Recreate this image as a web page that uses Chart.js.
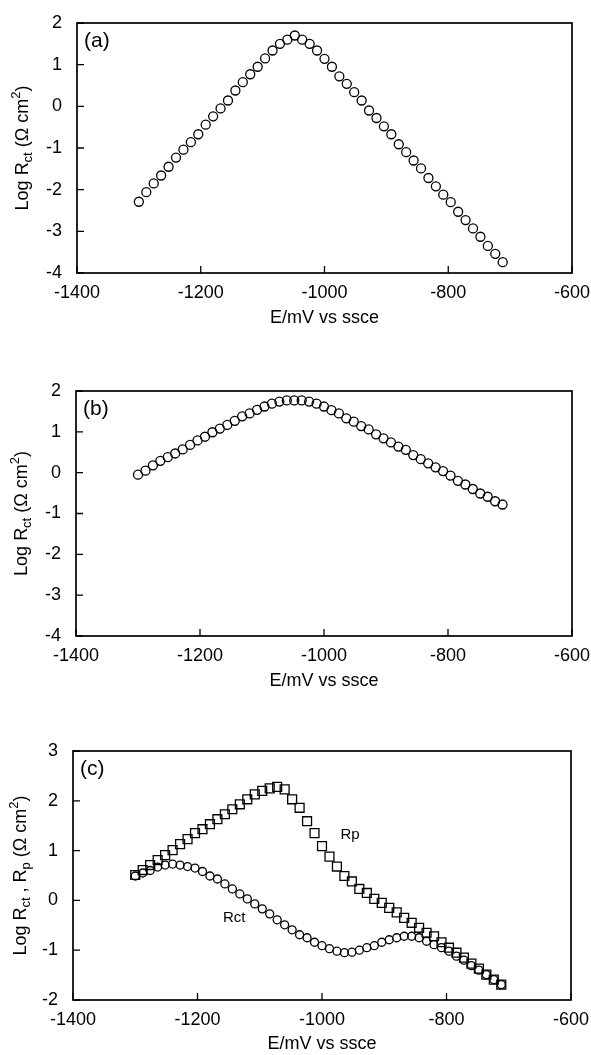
<!DOCTYPE html>
<html>
<head>
<meta charset="utf-8">
<script src="https://cdn.jsdelivr.net/npm/chart.js@4.4.1/dist/chart.umd.min.js"></script>
<style>
    body { margin: 0; background: #fff; }
    .painel { position: absolute; left: 0; }
</style>
</head>
<body>
<canvas id="graficoA" class="painel" width="591" height="330" style="top:0px"></canvas>
<canvas id="graficoB" class="painel" width="591" height="355" style="top:340px"></canvas>
<canvas id="graficoC" class="painel" width="591" height="355" style="top:700px"></canvas>
<script>
// Potenciais (mV vs ssce) - mesmos para os três gráficos
var potencial = [-1300, -1288, -1276, -1264, -1252, -1240, -1228, -1216, -1204, -1192,
    -1180, -1168, -1156, -1144, -1132, -1120, -1108, -1096, -1084, -1072,
    -1060, -1048, -1036, -1024, -1012, -1000, -988, -976, -964, -952,
    -940, -928, -916, -904, -892, -880, -868, -856, -844, -832,
    -820, -808, -796, -784, -772, -760, -748, -736, -724, -712];

// (a) Log Rct
var logRctA = [-2.29, -2.06, -1.85, -1.66, -1.45, -1.23, -1.04, -0.86, -0.67, -0.44,
    -0.24, -0.05, 0.14, 0.38, 0.58, 0.77, 0.95, 1.15, 1.34, 1.50,
    1.60, 1.70, 1.60, 1.50, 1.34, 1.14, 0.95, 0.72, 0.54, 0.34,
    0.14, -0.10, -0.28, -0.48, -0.67, -0.91, -1.10, -1.30, -1.49, -1.72,
    -1.92, -2.12, -2.30, -2.53, -2.73, -2.93, -3.13, -3.35, -3.54, -3.74];

// (b) Log Rct
var logRctB = [-0.05, 0.05, 0.18, 0.29, 0.38, 0.47, 0.57, 0.68, 0.79, 0.88,
    0.99, 1.08, 1.17, 1.27, 1.38, 1.45, 1.54, 1.62, 1.69, 1.74,
    1.77, 1.77, 1.77, 1.74, 1.69, 1.62, 1.53, 1.45, 1.33, 1.25,
    1.14, 1.06, 0.94, 0.84, 0.74, 0.64, 0.56, 0.43, 0.33, 0.23,
    0.13, 0.04, -0.07, -0.20, -0.29, -0.40, -0.51, -0.59, -0.70, -0.78];

// (c) Log Rct e Log Rp
var logRctC = [0.49, 0.55, 0.60, 0.67, 0.71, 0.73, 0.71, 0.68, 0.65, 0.58,
    0.49, 0.43, 0.33, 0.23, 0.13, 0.03, -0.07, -0.17, -0.27, -0.39,
    -0.49, -0.59, -0.69, -0.75, -0.84, -0.91, -0.97, -1.02, -1.05, -1.04,
    -1.00, -0.95, -0.91, -0.84, -0.79, -0.75, -0.72, -0.72, -0.75, -0.82,
    -0.89, -0.95, -1.02, -1.12, -1.20, -1.31, -1.40, -1.49, -1.59, -1.69];
var logRpC = [0.51, 0.61, 0.71, 0.81, 0.91, 1.01, 1.13, 1.23, 1.35, 1.43,
    1.53, 1.63, 1.73, 1.83, 1.93, 2.03, 2.13, 2.20, 2.25, 2.28,
    2.23, 2.03, 1.86, 1.59, 1.35, 1.09, 0.88, 0.68, 0.49, 0.38,
    0.23, 0.15, 0.03, -0.05, -0.15, -0.24, -0.35, -0.45, -0.55, -0.65,
    -0.72, -0.84, -0.95, -1.05, -1.15, -1.27, -1.37, -1.49, -1.59, -1.69];

// Rótulos das curvas no gráfico (c)
var rotulosC = ['Rp', 'Rct'];
var rotulosCx = [-955, -1141];
var rotulosCy = [1.32, -0.36];

var fonte = '"Liberation Sans", Arial, Helvetica, sans-serif';

function pontos(ys) {
    return potencial.map(function (x, i) { return { x: x, y: ys[i] }; });
}

// Desenha a moldura, os ticks para dentro, o título do eixo y e a letra do painel
var molduraPlugin = {
    id: 'moldura',
    afterDraw: function (chart) {
        var o = chart.options.plugins.moldura;
        var ctx = chart.ctx, a = chart.chartArea;
        var sx = chart.scales.x, sy = chart.scales.y;
        ctx.save();
        ctx.strokeStyle = '#000';
        ctx.lineWidth = 1.7;
        ctx.strokeRect(a.left, a.top, a.right - a.left, a.bottom - a.top);

        ctx.lineWidth = 1.3;
        ctx.beginPath();
        sx.ticks.forEach(function (t) {
            var px = sx.getPixelForValue(t.value);
            ctx.moveTo(px, a.bottom);
            ctx.lineTo(px, a.bottom - 7);
        });
        sy.ticks.forEach(function (t) {
            var py = sy.getPixelForValue(t.value);
            ctx.moveTo(a.left, py);
            ctx.lineTo(a.left + 7, py);
        });
        ctx.stroke();

        // letra do painel
        ctx.fillStyle = '#000';
        ctx.font = '21px ' + fonte;
        ctx.textBaseline = 'top';
        ctx.textAlign = 'left';
        ctx.fillText(o.letra, a.left + 7, a.top + 8);

        // título do eixo y com subscrito / sobrescrito
        var partes = o.tituloY;
        ctx.save();
        ctx.translate(o.tituloYx, (a.top + a.bottom) / 2);
        ctx.rotate(-Math.PI / 2);
        ctx.textBaseline = 'middle';
        var total = 0;
        partes.forEach(function (p) {
            ctx.font = (p.tipo ? '13px ' : '18px ') + fonte;
            p.w = ctx.measureText(p.t).width;
            total += p.w;
        });
        var cx = -total / 2;
        partes.forEach(function (p) {
            ctx.font = (p.tipo ? '13px ' : '18px ') + fonte;
            var dy = p.tipo === 'sub' ? 5 : (p.tipo === 'sup' ? -7 : 0);
            ctx.fillText(p.t, cx, dy);
            cx += p.w;
        });
        ctx.restore();

        // rótulos das curvas
        if (o.rotulos) {
            ctx.font = '15px ' + fonte;
            ctx.textAlign = 'center';
            ctx.textBaseline = 'middle';
            o.rotulos.forEach(function (r, i) {
                ctx.fillText(r, sx.getPixelForValue(o.rotulosX[i]), sy.getPixelForValue(o.rotulosY[i]));
            });
        }
        ctx.restore();
    }
};

function criarGrafico(id, conjuntos, cfg) {
    var ctx = document.getElementById(id).getContext('2d');
    return new Chart(ctx, {
        type: 'scatter',
        data: { datasets: conjuntos },
        options: {
            responsive: false,
            animation: false,
            layout: { padding: { top: cfg.topo, right: 591 - cfg.direita, left: 0, bottom: 0 } },
            plugins: {
                legend: { display: false },
                tooltip: { enabled: false },
                moldura: cfg
            },
            scales: {
                x: {
                    type: 'linear', min: -1400, max: -600,
                    grid: { display: false, drawTicks: false },
                    border: { display: false },
                    ticks: {
                        stepSize: 200, color: '#000', padding: 9,
                        font: { family: fonte, size: 18 },
                        maxRotation: 0,
                        callback: function (v) { return String(v); }
                    },
                    title: {
                        display: true, text: 'E/mV vs ssce', color: '#000',
                        font: { family: fonte, size: 18 },
                        padding: { top: 0, bottom: cfg.tituloPad }
                    },
                    afterFit: function (s) {
                        s.height = cfg.alturaX;
                        s.paddingLeft = 0; s.paddingRight = 0;
                    }
                },
                y: {
                    type: 'linear', min: cfg.ymin, max: cfg.ymax,
                    grid: { display: false, drawTicks: false },
                    border: { display: false },
                    ticks: {
                        stepSize: 1, color: '#000', padding: 15,
                        font: { family: fonte, size: 18 },
                        callback: function (v) { return String(v); }
                    },
                    afterFit: function (s) {
                        s.width = cfg.esquerda;
                        s.paddingTop = 0; s.paddingBottom = 0;
                    }
                }
            }
        },
        plugins: [molduraPlugin]
    });
}

function circulos(ys, r) {
    return {
        data: pontos(ys), pointStyle: 'circle', pointRadius: r,
        pointBorderColor: '#000', pointBackgroundColor: 'rgba(0,0,0,0)',
        pointBorderWidth: 1.3, showLine: false
    };
}

var tituloRct = [{ t: 'Log R' }, { t: 'ct', tipo: 'sub' }, { t: ' (\u03A9 cm' }, { t: '2', tipo: 'sup' }, { t: ')' }];
var tituloRctRp = [{ t: 'Log R' }, { t: 'ct', tipo: 'sub' }, { t: ' , R' }, { t: 'p', tipo: 'sub' },
    { t: ' (\u03A9 cm' }, { t: '2', tipo: 'sup' }, { t: ')' }];

// (a)
criarGrafico('graficoA', [circulos(logRctA, 4.5)], {
    topo: 23, direita: 572, esquerda: 77, alturaX: 330 - 273, tituloPad: 1,
    ymin: -4, ymax: 2, letra: '(a)', tituloY: tituloRct, tituloYx: 23
});

// (b)
criarGrafico('graficoB', [circulos(logRctB, 4.5)], {
    topo: 391 - 340, direita: 572, esquerda: 76, alturaX: 695 - 636, tituloPad: 3,
    ymin: -4, ymax: 2, letra: '(b)', tituloY: tituloRct, tituloYx: 22
});

// (c)
criarGrafico('graficoC', [
    circulos(logRctC, 4.0),
    {
        data: pontos(logRpC), pointStyle: 'rect', pointRadius: 6.3,
        pointBorderColor: '#000', pointBackgroundColor: 'rgba(0,0,0,0)',
        pointBorderWidth: 1.3, showLine: false
    }
], {
    topo: 751 - 700, direita: 571, esquerda: 73, alturaX: 1055 - 1000, tituloPad: 0,
    ymin: -2, ymax: 3, letra: '(c)', tituloY: tituloRctRp, tituloYx: 21,
    rotulos: rotulosC, rotulosX: rotulosCx, rotulosY: rotulosCy
});
</script>
</body>
</html>
